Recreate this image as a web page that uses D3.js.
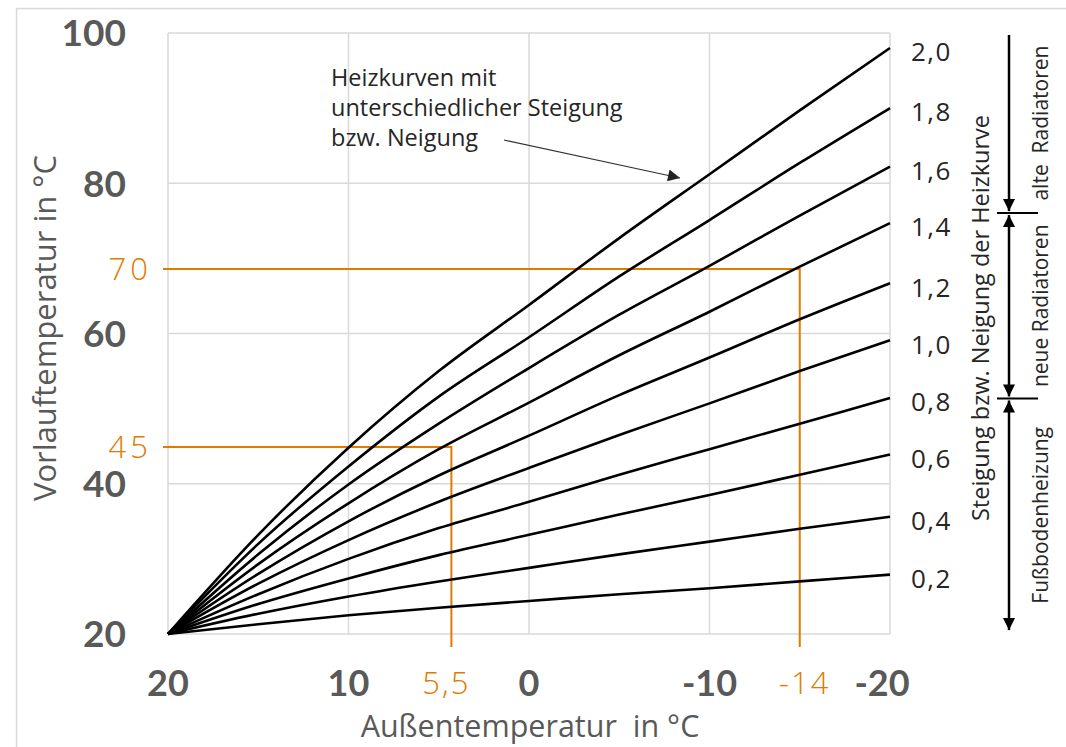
<!DOCTYPE html>
<html>
<head>
<meta charset="utf-8">
<script src="https://cdn.jsdelivr.net/npm/d3@7"></script>
<style>
  html, body { margin: 0; padding: 0; background: #fff; }
  svg { display: block; }
</style>
</head>
<body>
<div id="chart"></div>
<script>
// Außentemperatur (x) sample points
const outsideTemps = [20, 15, 10, 5, 0, -5, -10, -15, -20];

// Heizkurven (Vorlauftemperatur in °C)
const slopeLabels = ['2,0', '1,8', '1,6', '1,4', '1,2', '1,0', '0,8', '0,6', '0,4', '0,2'];
const curve20 = [20, 33.2, 44.8, 55.0, 63.8, 72.7, 81.2, 89.7, 98.0];
const curve18 = [20, 32.0, 42.3, 51.6, 59.5, 67.6, 75.1, 82.7, 90.0];
const curve16 = [20, 30.6, 39.9, 48.0, 55.4, 62.5, 69.0, 75.7, 82.2];
const curve14 = [20, 29.3, 37.4, 44.6, 50.8, 57.1, 62.9, 68.9, 74.7];
const curve12 = [20, 28.0, 35.0, 41.1, 46.4, 51.8, 56.8, 61.9, 66.7];
const curve10 = [20, 26.7, 32.5, 37.6, 42.1, 46.5, 50.7, 55.0, 59.1];
const curve08 = [20, 25.3, 30.0, 34.1, 37.6, 41.2, 44.6, 48.0, 51.4];
const curve06 = [20, 24.0, 27.4, 30.5, 33.2, 35.9, 38.5, 41.2, 43.9];
const curve04 = [20, 22.7, 25.0, 27.0, 28.8, 30.6, 32.3, 34.0, 35.6];
const curve02 = [20, 21.3, 22.5, 23.5, 24.4, 25.3, 26.1, 27.0, 27.9];
const curves = [curve20, curve18, curve16, curve14, curve12, curve10, curve08, curve06, curve04, curve02];

// Axis ticks
const xTicks = [20, 10, 0, -10, -20];
const yTicks = [20, 40, 60, 80, 100];

// Orange reading examples: where the helper lines sit in the picture, and their labels
const exampleX = [4.3, -15];
const exampleY = [44.9, 68.6];
const exampleXLabels = ['5,5', '-14'];
const exampleYLabels = ['45', '70'];

// Ranges on the right (in slope units)
const rangeFrom = [2.057, 1.448, 0.814];
const rangeTo = [1.448, 0.814, 0.015];
const rangeLabels = ['alte  Radiatoren', 'neue Radiatoren', 'Fußbodenheizung'];

const W = 1066, H = 747;
const ORANGE = '#e07b00';
const GRID = '#d9d9d9';
const AXIS_GREY = '#595959';

const svg = d3.select('#chart').append('svg').attr('width', W).attr('height', H);

const defs = svg.append('defs');
function marker(id, color, w, h) {
  defs.append('marker')
    .attr('id', id)
    .attr('viewBox', '0 0 10 10')
    .attr('refX', 10).attr('refY', 5)
    .attr('markerUnits', 'userSpaceOnUse')
    .attr('markerWidth', w).attr('markerHeight', h)
    .attr('orient', 'auto-start-reverse')
    .append('path').attr('d', 'M0,0 L10,5 L0,10 Z').attr('fill', color);
}
marker('arrowThin', '#222', 16, 12);
marker('arrowBig', '#000', 14, 12);

// outer chart frame
svg.append('rect')
  .attr('x', 16.5).attr('y', 8.5).attr('width', W + 10).attr('height', H + 10)
  .attr('fill', 'none').attr('stroke', GRID).attr('stroke-width', 1.5);

const x = d3.scaleLinear().domain([20, -20]).range([168, 890]);
const y = d3.scaleLinear().domain([20, 100]).range([634, 33]);

// gridlines
svg.append('g').selectAll('line').data(yTicks).join('line')
  .attr('x1', x(20)).attr('x2', x(-20))
  .attr('y1', d => y(d)).attr('y2', d => y(d))
  .attr('stroke', GRID).attr('stroke-width', 1.5);
svg.append('g').selectAll('line').data(xTicks).join('line')
  .attr('x1', d => x(d)).attr('x2', d => x(d))
  .attr('y1', y(20)).attr('y2', y(100))
  .attr('stroke', GRID).attr('stroke-width', 1.5);

// y tick labels
svg.append('g').selectAll('text').data(yTicks).join('text')
  .attr('x', 126).attr('y', d => y(d))
  .attr('dy', '0.36em')
  .attr('text-anchor', 'end')
  .attr('font-family', 'Lato, "Open Sans", sans-serif')
  .attr('font-weight', 700)
  .attr('font-size', 37)
  .attr('fill', AXIS_GREY)
  .text(d => d);

// x tick labels
svg.append('g').selectAll('text').data(xTicks).join('text')
  .attr('x', d => d === -20 ? x(d) - 8 : x(d)).attr('y', 696)
  .attr('text-anchor', 'middle')
  .attr('font-family', 'Lato, "Open Sans", sans-serif')
  .attr('font-weight', 700)
  .attr('font-size', 36)
  .attr('fill', AXIS_GREY)
  .text(d => d);

// axis titles
svg.append('text')
  .attr('x', 530).attr('y', 737)
  .attr('text-anchor', 'middle')
  .attr('font-family', '"Open Sans", sans-serif')
  .attr('font-size', 30.5)
  .attr('fill', AXIS_GREY)
  .attr('xml:space', 'preserve')
  .text('Außentemperatur  in °C');

svg.append('text')
  .attr('transform', 'translate(56,328) rotate(-90)')
  .attr('text-anchor', 'middle')
  .attr('font-family', '"Open Sans", sans-serif')
  .attr('font-size', 31)
  .attr('fill', AXIS_GREY)
  .text('Vorlauftemperatur in °C');

// orange reading lines
const exG = svg.append('g');
exampleX.forEach((t, i) => {
  const v = exampleY[i];
  exG.append('path')
    .attr('d', `M${x(20) - 5},${y(v)} H${x(t)} V${y(20) + 13}`)
    .attr('fill', 'none').attr('stroke', ORANGE).attr('stroke-width', 2);
  exG.append('text')
    .attr('x', 152).attr('y', y(v)).attr('dy', '0.36em')
    .attr('text-anchor', 'end')
    .attr('font-family', '"Open Sans", sans-serif')
    .attr('font-weight', 300)
    .attr('font-size', 31)
    .attr('letter-spacing', 4)
    .attr('fill', ORANGE)
    .text(exampleYLabels[i]);
  exG.append('text')
    .attr('x', i === 0 ? x(t) - 5 : x(t) + 5).attr('y', 694)
    .attr('text-anchor', 'middle')
    .attr('font-family', '"Open Sans", sans-serif')
    .attr('font-weight', 300)
    .attr('font-size', 31)
    .attr('letter-spacing', 2)
    .attr('fill', ORANGE)
    .text(exampleXLabels[i]);
});

// heating curves
const line = d3.line()
  .x((d, i) => x(outsideTemps[i]))
  .y(d => y(d))
  .curve(d3.curveMonotoneX);

svg.append('g').selectAll('path').data(curves).join('path')
  .attr('d', line)
  .attr('fill', 'none')
  .attr('stroke', '#000')
  .attr('stroke-width', 2.6)
  .attr('stroke-linejoin', 'round');

// slope labels at curve ends
svg.append('g').selectAll('text').data(curves).join('text')
  .attr('x', 911)
  .attr('y', d => y(d[d.length - 1]) + 4)
  .attr('dy', '0.36em')
  .attr('font-family', '"Open Sans", sans-serif')
  .attr('font-size', 26)
  .attr('letter-spacing', 1.5)
  .attr('fill', '#262626')
  .text((d, i) => slopeLabels[i]);

svg.append('text')
  .attr('transform', 'translate(989,318) rotate(-90)')
  .attr('text-anchor', 'middle')
  .attr('font-family', '"Open Sans", sans-serif')
  .attr('font-size', 23.5)
  .attr('fill', '#262626')
  .text('Steigung bzw. Neigung der Heizkurve');

// range arrows on the right
const slopeY = d3.scaleLinear().domain([2.0, 0.2]).range([51.7, 578]);
const rangeG = svg.append('g');
rangeFrom.forEach((from, i) => {
  const y1 = slopeY(from) + (i === 0 ? 0 : 2);
  const y2 = slopeY(rangeTo[i]) - 2;
  rangeG.append('line')
    .attr('x1', 1009).attr('x2', 1009)
    .attr('y1', y1).attr('y2', y2)
    .attr('stroke', '#000').attr('stroke-width', 2.5)
    .attr('marker-end', 'url(#arrowBig)')
    .attr('marker-start', i === 0 ? null : 'url(#arrowBig)');
  if (i < rangeFrom.length - 1) {
    rangeG.append('line')
      .attr('x1', 997).attr('x2', 1038)
      .attr('y1', slopeY(rangeTo[i])).attr('y2', slopeY(rangeTo[i]))
      .attr('stroke', '#000').attr('stroke-width', 2);
  }
  rangeG.append('text')
    .attr('transform', `translate(1048,${(y1 + y2) / 2}) rotate(-90)`)
    .attr('text-anchor', 'middle')
    .attr('font-family', '"Open Sans", sans-serif')
    .attr('font-size', 21)
    .attr('fill', '#262626')
    .attr('xml:space', 'preserve')
    .text(rangeLabels[i]);
});

// annotation
const note = svg.append('text')
  .attr('font-family', '"Open Sans", sans-serif')
  .attr('font-size', 23.5)
  .attr('fill', '#262626');
['Heizkurven mit', 'unterschiedlicher Steigung', 'bzw. Neigung'].forEach((t, i) => {
  note.append('tspan').attr('x', 331).attr('y', 86 + i * 30).text(t);
});
svg.append('line')
  .attr('x1', 504).attr('y1', 140).attr('x2', 680).attr('y2', 178)
  .attr('stroke', '#333').attr('stroke-width', 1.2)
  .attr('marker-end', 'url(#arrowThin)');
</script>
</body>
</html>
